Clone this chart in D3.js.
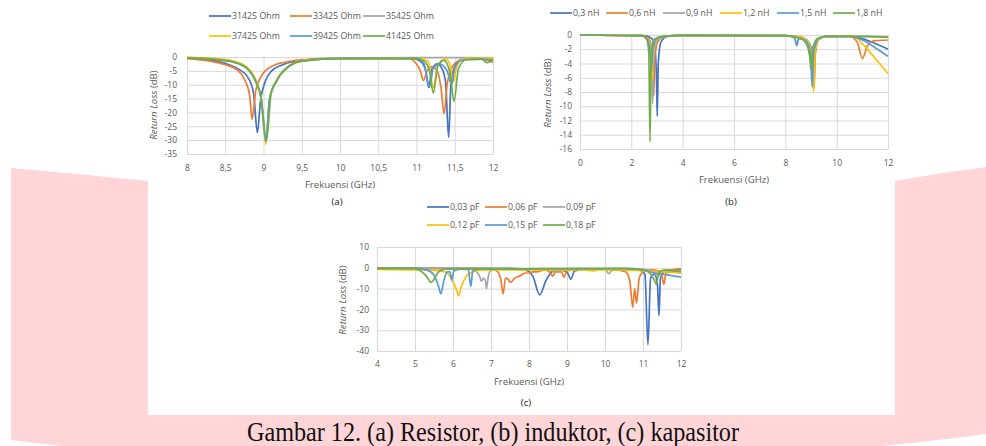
<!DOCTYPE html>
<html>
<head>
<meta charset="utf-8">
<script src="https://d3js.org/d3.v7.min.js"></script>
<style>
  body { margin: 0; background: #fff; }
  svg text { font-family: "Open Sans", "Noto Sans", sans-serif; fill: #595959; }
  .grid line { stroke: #d9d9d9; stroke-width: 1; }
  .grid path { display: none; }
  .caption { font-family: "Liberation Serif", "Times New Roman", serif; fill: #111; }
</style>
</head>
<body>
<svg id="fig" width="986" height="446"></svg>
<script>
// office colours, same order in all three charts
var palette = ["#4472c4", "#ed7d31", "#a5a5a5", "#ffc000", "#5b9bd5", "#70ad47"];

// ---- (a) resistor ----
var resistorNames = ["31425 Ohm", "33425 Ohm", "35425 Ohm", "37425 Ohm", "39425 Ohm", "41425 Ohm"];
var resistorXTicks = [8, 8.5, 9, 9.5, 10, 10.5, 11, 11.5, 12];
var resistorYTicks = [0, -5, -10, -15, -20, -25, -30, -35];
var r31425 = [[8,-0.4],[8.2,-0.8],[8.4,-1.6],[8.55,-2.8],[8.7,-4.8],[8.8,-7.5],[8.87,-13],[8.92,-27.3],[8.96,-16],[9.02,-9],[9.1,-5.2],[9.25,-2.8],[9.4,-1.6],[9.6,-0.9],[10,-0.5],[10.5,-0.4],[10.95,-0.5],[11.07,-2],[11.12,-5],[11.16,-11],[11.2,-4.5],[11.27,-2.5],[11.33,-4],[11.38,-9],[11.42,-29],[11.45,-10],[11.5,-3.5],[11.58,-1],[11.7,-0.6],[11.85,-0.6],[12,-1]];
var r33425 = [[8,-0.6],[8.3,-1.5],[8.5,-2.8],[8.65,-4.5],[8.75,-8],[8.82,-14],[8.85,-22.5],[8.9,-12],[8.97,-7],[9.1,-3.5],[9.3,-1.8],[9.5,-1],[10,-0.5],[10.9,-0.6],[11,-2.5],[11.05,-5],[11.09,-8.5],[11.14,-5],[11.2,-3.5],[11.27,-5],[11.32,-11],[11.36,-20.5],[11.4,-10],[11.46,-4],[11.55,-1.5],[11.7,-0.7],[11.9,-1],[12,-2]];
var r35425 = [[8,-0.2],[8.4,-0.8],[8.6,-1.6],[8.78,-3.8],[8.9,-8.5],[8.97,-15],[9.03,-30],[9.08,-15],[9.17,-8.5],[9.35,-3],[9.5,-1.5],[10,-0.5],[11,-0.2],[11.5,-0.2],[12,-0.3]];
var r37425 = [[8,-0.1],[8.4,-0.6],[8.6,-1.4],[8.78,-3.6],[8.9,-8.5],[8.97,-15],[9.03,-31.5],[9.08,-15],[9.17,-8.5],[9.35,-3],[9.5,-1.4],[10,-0.5],[11,-0.4],[11.15,-1.5],[11.22,-11],[11.28,-3],[11.38,-0.8],[11.44,-3],[11.48,-9],[11.53,-3],[11.62,-0.6],[12,-0.3]];
var r39425 = [[8,-0.3],[8.4,-1],[8.6,-1.8],[8.78,-4],[8.9,-9],[8.97,-15],[9.03,-30.5],[9.08,-15],[9.17,-8.7],[9.35,-3],[9.5,-1.5],[10,-0.5],[11,-0.5],[11.1,-2.5],[11.17,-11],[11.22,-4],[11.3,-2.5],[11.4,-5],[11.46,-10],[11.5,-4],[11.6,-1],[11.85,-0.8],[12,-1.2]];
var r41425 = [[8,-0.3],[8.4,-1],[8.6,-1.8],[8.78,-4],[8.9,-9],[8.97,-15],[9.04,-30],[9.1,-13],[9.17,-8.7],[9.35,-3],[9.5,-1.5],[10,-0.6],[11,-0.6],[11.1,-1.5],[11.17,-5],[11.22,-13],[11.28,-3],[11.36,-1.2],[11.44,-6],[11.49,-16],[11.55,-4],[11.65,-1],[11.85,-0.8],[11.92,-2],[12,-0.8]];
var resistorSeries = [r31425, r33425, r35425, r37425, r39425, r41425];

// ---- (b) induktor ----
var inductorNames = ["0,3 nH", "0,6 nH", "0,9 nH", "1,2 nH", "1,5 nH", "1,8 nH"];
var inductorXTicks = [0, 2, 4, 6, 8, 10, 12];
var inductorYTicks = [0, -2, -4, -6, -8, -10, -12, -14, -16];
var l03 = [[0,0],[2.5,-0.1],[2.8,-0.5],[2.92,-2],[2.98,-6],[3.01,-11.4],[3.05,-4],[3.15,-1],[3.4,-0.2],[4,-0.05],[8,-0.1],[8.6,-0.3],[8.9,-1],[9.05,-2.5],[9.12,-4],[9.18,-2],[9.3,-0.6],[9.6,-0.2],[10.5,-0.2],[11,-0.5],[11.5,-1.2],[12,-2]];
var l06 = [[0,0],[2.4,-0.1],[2.7,-0.6],[2.8,-2.5],[2.87,-8.6],[2.92,-3],[3.05,-0.8],[3.3,-0.2],[4,-0.05],[8,-0.1],[8.7,-0.4],[8.95,-1.5],[9.07,-3.5],[9.12,-7.5],[9.17,-2.5],[9.3,-0.6],[9.6,-0.2],[10.5,-0.2],[10.8,-1],[11,-3.3],[11.2,-1.5],[11.5,-0.8],[12,-0.7]];
var l09 = [[0,0],[2.4,-0.1],[2.68,-0.8],[2.78,-3],[2.83,-9.7],[2.88,-3],[3,-0.8],[3.3,-0.2],[4,-0.05],[8,-0.1],[8.35,-0.3],[8.45,-1.3],[8.52,-0.4],[8.8,-0.6],[8.98,-2],[9.06,-5],[9.12,-2],[9.3,-0.5],[9.6,-0.2],[11,-0.2],[12,-0.3]];
var l12 = [[0,0],[2.4,-0.1],[2.66,-0.8],[2.75,-2.5],[2.8,-6.5],[2.85,-2.5],[3,-0.6],[3.3,-0.2],[4,-0.05],[8,-0.1],[8.7,-0.4],[8.95,-1.5],[9.07,-3.5],[9.1,-8],[9.16,-2.5],[9.3,-0.6],[9.6,-0.2],[10.6,-0.1],[11,-1.2],[11.5,-3.3],[12,-5.4]];
var l15 = [[0,0],[2.4,-0.1],[2.64,-0.8],[2.73,-2.5],[2.78,-5],[2.84,-2],[3,-0.5],[3.3,-0.2],[4,-0.05],[8,-0.1],[8.35,-0.4],[8.45,-1.5],[8.52,-0.5],[8.8,-0.8],[8.97,-2.5],[9.05,-7.3],[9.1,-2.5],[9.3,-0.5],[9.6,-0.2],[10.5,-0.2],[11,-0.7],[11.5,-1.8],[12,-3]];
var l18 = [[0,0],[2.4,-0.1],[2.6,-0.6],[2.68,-2.5],[2.73,-15],[2.77,-2.5],[2.9,-0.6],[3.2,-0.2],[4,-0.05],[8,-0.1],[8.6,-0.5],[8.85,-1.5],[8.95,-3],[9,-4.8],[9.06,-2],[9.25,-0.5],[9.6,-0.2],[11,-0.2],[12,-0.3]];
var inductorSeries = [l03, l06, l09, l12, l15, l18];

// ---- (c) kapasitor ----
var capacitorNames = ["0,03 pF", "0,06 pF", "0,09 pF", "0,12 pF", "0,15 pF", "0,18 pF"];
var capacitorXTicks = [4, 5, 6, 7, 8, 9, 10, 11, 12];
var capacitorYTicks = [10, 0, -10, -20, -30, -40];
var c003 = [[4,-0.3],[7.5,-0.3],[7.9,-1],[8.1,-4],[8.28,-13],[8.45,-6],[8.6,-2],[8.8,-1],[9,-2],[9.1,-5.5],[9.2,-1.5],[9.5,-0.6],[10.5,-0.5],[10.9,-1],[11.05,-3],[11.13,-37],[11.2,-5],[11.3,-3],[11.38,-8],[11.42,-23],[11.46,-5],[11.6,-1.5],[12,-1]];
var c006 = [[4,-0.3],[7,-0.4],[7.15,-1.5],[7.25,-5],[7.32,-12.5],[7.38,-5],[7.45,-5.5],[7.52,-7],[7.62,-5],[7.75,-4],[7.9,-2.5],[8,-2.5],[8.1,-2],[8.2,-2],[8.4,-1],[8.55,-2],[8.62,-4],[8.7,-2],[8.85,-2],[8.92,-4.5],[9,-1.5],[9.3,-0.7],[10.2,-0.6],[10.45,-1.5],[10.55,-2],[10.65,-6],[10.73,-19],[10.78,-10],[10.83,-17],[10.9,-5],[11,-2],[11.2,-1],[11.4,-1.5],[11.5,-4],[11.55,-8],[11.6,-3],[11.8,-0.8],[12,-0.5]];
var c009 = [[4,-0.3],[6.5,-0.4],[6.6,-1.5],[6.7,-4],[6.75,-6.5],[6.8,-5],[6.85,-6],[6.88,-10],[6.93,-4],[7,-1.2],[7.2,-0.5],[8.5,-0.5],[8.7,-2],[8.8,-1],[10,-0.6],[10.1,-2.8],[10.2,-1],[11,-0.8],[11.3,-2],[11.4,-4],[11.5,-2],[12,-1.5]];
var c012 = [[4,-0.8],[5,-1],[5.5,-1.2],[5.8,-2],[5.95,-5],[6.1,-11],[6.15,-13.5],[6.22,-9],[6.35,-4],[6.5,-2],[6.8,-1],[9.5,-1],[9.7,-1.5],[9.8,-1],[10.5,-1],[11,-1.5],[11.5,-2],[12,-2.5]];
var c015 = [[4,-0.3],[5,-0.3],[5.3,-1],[5.5,-3.5],[5.62,-9],[5.68,-12.5],[5.75,-7],[5.85,-2],[5.92,-2],[5.97,-6],[6.02,-1.5],[6.2,-0.6],[6.4,-0.8],[6.47,-9],[6.52,-1.5],[6.7,-0.5],[10.5,-0.4],[11,-1],[11.3,-2.5],[11.5,-3],[12,-4.5]];
var c018 = [[4,-0.3],[5,-0.4],[5.15,-1.5],[5.3,-4],[5.42,-7],[5.52,-5],[5.62,-2],[5.8,-0.6],[10.5,-0.3],[11,-1],[11.2,-3],[11.3,-6],[11.35,-8],[11.42,-2],[11.6,-1],[12,-2]];
var capacitorSeries = [c003, c006, c009, c012, c015, c018];

var svg = d3.select("#fig");

// pink band behind the figure
svg.append("path")
    .attr("d", "M11,168 Q80,174 148,181 L895,181 Q940,173 986,167 L986,434 Q900,446 800,452 L120,452 Q60,446 11,440 Z")
    .attr("fill", "#ffd5d7");
svg.append("rect")
    .attr("x", 148).attr("y", 0)
    .attr("width", 747).attr("height", 415)
    .attr("fill", "#fff");

function fmt(v) { return String(v).replace(".", ","); }

function drawPanel(cfg) {
    var x = d3.scaleLinear().domain(cfg.xDomain).range([cfg.left, cfg.right]);
    var y = d3.scaleLinear().domain(cfg.yDomain).range([cfg.bottom, cfg.top]);
    var h = cfg.bottom - cfg.top, w = cfg.right - cfg.left;

    // grid
    svg.append("g").attr("class", "grid")
        .attr("transform", "translate(0," + cfg.bottom + ")")
        .call(d3.axisBottom(x).tickValues(cfg.xTicks).tickSize(-h).tickFormat(""));
    svg.append("g").attr("class", "grid")
        .attr("transform", "translate(" + cfg.left + ",0)")
        .call(d3.axisLeft(y).tickValues(cfg.yTicks).tickSize(-w).tickFormat(""));

    // tick labels
    var xa = svg.append("g")
        .attr("transform", "translate(0," + cfg.bottom + ")")
        .call(d3.axisBottom(x).tickValues(cfg.xTicks).tickSize(0).tickPadding(cfg.xPad).tickFormat(fmt));
    var ya = svg.append("g")
        .attr("transform", "translate(" + cfg.left + ",0)")
        .call(d3.axisLeft(y).tickValues(cfg.yTicks).tickSize(0).tickPadding(cfg.yPad).tickFormat(fmt));
    [xa, ya].forEach(function(a) {
        a.select(".domain").remove();
        a.selectAll("text").attr("fill", "#595959").style("font-size", "8.5px")
            .style("font-family", "'Open Sans', sans-serif");
    });

    // lines
    var line = d3.line()
        .x(function(d) { return x(d[0]); })
        .y(function(d) { return y(d[1]); })
        .curve(d3.curveMonotoneX);
    cfg.series.forEach(function(s, i) {
        svg.append("path")
            .datum(s)
            .attr("d", line)
            .attr("fill", "none")
            .attr("stroke", palette[i])
            .attr("stroke-width", 1.7)
            .attr("stroke-linejoin", "round");
    });

    // legend
    cfg.names.forEach(function(n, i) {
        var lx = cfg.legendX[i], ly = cfg.legendY[i];
        svg.append("line")
            .attr("x1", lx).attr("x2", lx + 22)
            .attr("y1", ly).attr("y2", ly)
            .attr("stroke", palette[i]).attr("stroke-width", 1.7);
        svg.append("text")
            .attr("x", lx + 23).attr("y", ly + 3)
            .style("font-size", "8.8px")
            .text(n);
    });

    // axis titles
    var yt = svg.append("text")
        .attr("transform", "translate(" + cfg.yTitle[0] + "," + cfg.yTitle[1] + ") rotate(-90)")
        .attr("text-anchor", "middle")
        .style("font-size", "9.6px");
    yt.append("tspan").style("font-style", "italic").text("Return Loss");
    yt.append("tspan").text(" (dB)");

    svg.append("text")
        .attr("x", cfg.xTitle[0]).attr("y", cfg.xTitle[1])
        .attr("text-anchor", "middle")
        .style("font-size", "9.6px")
        .text("Frekuensi (GHz)");

    svg.append("text")
        .attr("x", cfg.sub[0]).attr("y", cfg.sub[1])
        .attr("text-anchor", "middle")
        .style("font-size", "9.6px")
        .style("fill", "#222")
        .text(cfg.subText);
}

drawPanel({
    names: resistorNames, series: resistorSeries,
    xDomain: [8, 12], yDomain: [-35, 0], xTicks: resistorXTicks, yTicks: resistorYTicks,
    left: 187, right: 493, top: 57, bottom: 154, xPad: 11, yPad: 10,
    legendX: [209, 290, 363, 209, 290, 363], legendY: [16, 16, 16, 36, 36, 36],
    yTitle: [157, 105], xTitle: [340, 188], sub: [337, 205], subText: "(a)"
});

drawPanel({
    names: inductorNames, series: inductorSeries,
    xDomain: [0, 12], yDomain: [-16, 0], xTicks: inductorXTicks, yTicks: inductorYTicks,
    left: 580, right: 888, top: 35, bottom: 149, xPad: 11, yPad: 8,
    legendX: [550, 606, 663, 720, 777, 833], legendY: [13, 13, 13, 13, 13, 13],
    yTitle: [551, 93], xTitle: [734, 183], sub: [731, 205], subText: "(b)"
});

drawPanel({
    names: capacitorNames, series: capacitorSeries,
    xDomain: [4, 12], yDomain: [-40, 10], xTicks: capacitorXTicks, yTicks: capacitorYTicks,
    left: 377, right: 681, top: 247, bottom: 351, xPad: 10, yPad: 8,
    legendX: [427, 485, 543, 427, 485, 543], legendY: [207, 207, 207, 225, 225, 225],
    yTitle: [346, 300], xTitle: [529, 385], sub: [526, 406], subText: "(c)"
});

// figure caption
svg.append("text")
    .attr("class", "caption")
    .attr("x", 493).attr("y", 441)
    .attr("text-anchor", "middle")
    .attr("textLength", 492)
    .attr("lengthAdjust", "spacingAndGlyphs")
    .style("font-size", "27px")
    .style("font-family", "'Liberation Serif', serif")
    .style("fill", "#111")
    .text("Gambar 12. (a) Resistor, (b) induktor, (c) kapasitor");
</script>
</body>
</html>
